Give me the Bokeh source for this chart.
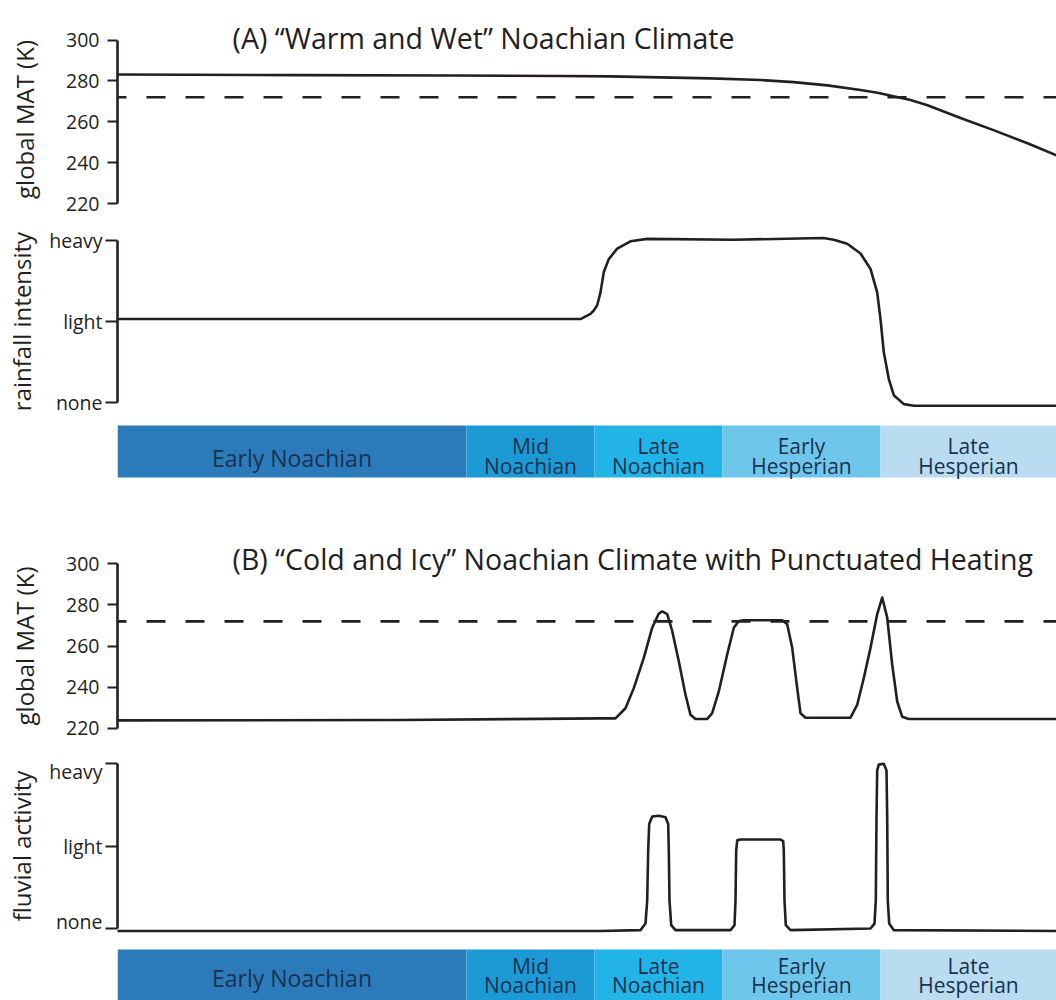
from bokeh.plotting import figure
from bokeh.layouts import column
from bokeh.models import Range1d, FixedTicker, Span, ColumnDataSource
from bokeh.core.properties import value
from bokeh.embed import file_html
from bokeh.resources import INLINE

FONT = "Open Sans"
INK = "#231f20"
BAND_INK = "#18324f"

# ---------------- data ----------------
title_a = "(A) \u201cWarm and Wet\u201d Noachian Climate"
title_b = "(B) \u201cCold and Icy\u201d Noachian Climate with Punctuated Heating"

mat_ticks = [220, 240, 260, 280, 300]
level_ticks = [0, 1, 2]
level_labels = ["none", "light", "heavy"]
freezing_k = 272

periods = ["Early Noachian", "Mid Noachian", "Late Noachian", "Early Hesperian", "Late Hesperian"]
period_two_line = [False, True, True, True, True]
period_start = [0, 349, 477, 605, 763]
period_end = [349, 477, 605, 763, 939]
period_colors = ["#2b7bbb", "#1c9ad6", "#22b4e7", "#6fc6eb", "#badcf1"]

# relative time (0 = start of Early Noachian, 939 = right edge of the figure)
a_mat_t = [0, 183, 333, 443, 493, 543, 593, 643, 676, 710, 743, 760, 776, 793, 810, 843, 876, 910, 939]
a_mat_k = [283.1, 282.8, 282.6, 282.4, 282.2, 281.7, 281.2, 280.4, 279.4, 277.8, 275.5, 274.2,
           272.5, 270.6, 268.1, 261.8, 255.9, 249.5, 243.6]

a_rain_t = [0, 463, 473, 476.3, 479.7, 483, 486.3, 491.3, 499.7, 513, 529.7, 616, 706, 716.3,
            729.7, 743, 753, 759.7, 763, 766.3, 771.3, 776.3, 786.3, 796.3, 939]
a_rain_v = [1.03, 1.03, 1.095, 1.136, 1.2, 1.36, 1.61, 1.77, 1.90, 1.99, 2.02, 2.01, 2.03, 2.01,
            1.96, 1.84, 1.65, 1.36, 1.03, 0.62, 0.29, 0.09, -0.02, -0.04, -0.04]

b_mat_t = [0, 283, 483, 498, 508, 516.3, 526.3, 534.7, 541.3, 544.7, 549.7, 554.7, 561.3, 568,
           573, 578, 589.7, 594.7, 601.3, 609.7, 616.3, 621.3, 626.3, 664.7, 669.7, 674.7, 679.7,
           683, 688, 733, 739.7, 746.3, 753, 759.7, 764.7, 769.7, 774.7, 779.7, 784.7, 791.3, 939]
b_mat_k = [223.8, 224.0, 224.8, 224.8, 229.7, 239.5, 254.2, 268.9, 275.8, 276.8, 275.5, 267.3,
           252.6, 236.3, 226.5, 224.5, 224.5, 227.3, 237.9, 255.9, 268.9, 272.2, 272.5, 272.5,
           270.6, 259.1, 239.5, 227.3, 225.1, 225.1, 231.4, 244.4, 259.1, 275.5, 283.6, 273.8,
           251.0, 233.0, 225.6, 224.5, 224.5]

b_fluv_t = [0, 483, 523, 528, 529.7, 530.7, 531.7, 534.7, 541.3, 548, 550.7, 551.3, 552, 553.7,
            558, 613, 617, 618, 618.7, 619.7, 623, 663, 665.7, 666.3, 667, 668.3, 673, 753, 757,
            758.3, 759, 759.7, 761.3, 766.3, 769, 769.7, 770.3, 771.7, 776.3, 939]
b_fluv_v = [-0.03, -0.03, -0.02, 0.06, 0.34, 0.95, 1.27, 1.36, 1.37, 1.35, 1.27, 0.95, 0.34, 0.04,
            -0.02, -0.02, 0.04, 0.34, 0.95, 1.07, 1.08, 1.08, 1.06, 0.95, 0.34, 0.04, -0.02, 0.0,
            0.06, 0.34, 1.35, 1.92, 1.99, 2.0, 1.92, 1.35, 0.34, 0.06, -0.02, -0.03]

# ---------------- layout helpers ----------------
W = 1056
LEFT = 117
X_END = W - LEFT


def y_range_for(frame_top, frame_bot, v_top, px_top, v_bot, px_bot):
    scale = (px_bot - px_top) / (v_top - v_bot)
    return Range1d(v_bot - (frame_bot - px_bot) / scale, v_top + (px_top - frame_top) / scale)


def base_fig(height, yr, top=0):
    p = figure(width=W, height=height, x_range=Range1d(0, X_END), y_range=yr,
               output_backend="svg", toolbar_location=None, tools="", title=None,
               min_border_left=LEFT, min_border_right=0, min_border_top=top, min_border_bottom=0)
    p.xaxis.visible = False
    p.xgrid.visible = False
    p.ygrid.visible = False
    p.outline_line_color = None
    p.background_fill_color = "white"
    p.border_fill_color = "white"
    return p


def style_yaxis(p, ticks, bounds, label, tick_out, lab_standoff, axlab_standoff, overrides=None):
    ax = p.yaxis[0]
    ax.ticker = FixedTicker(ticks=ticks)
    ax.bounds = bounds
    if overrides:
        ax.major_label_overrides = overrides
    ax.axis_label = label
    ax.axis_line_color = INK
    ax.axis_line_width = 2.6
    ax.major_tick_line_color = INK
    ax.major_tick_line_width = 2.2
    ax.major_tick_out = tick_out
    ax.major_tick_in = 0
    ax.minor_tick_line_color = None
    ax.major_label_standoff = lab_standoff
    ax.major_label_text_font = FONT
    ax.major_label_text_font_size = "19.5px"
    ax.major_label_text_color = INK
    ax.axis_label_text_font = FONT
    ax.axis_label_text_font_size = "24px"
    ax.axis_label_text_font_style = "normal"
    ax.axis_label_text_color = INK
    ax.axis_label_standoff = axlab_standoff


def curve(p, t, v):
    p.line(t, v, line_color=INK, line_width=2.6, line_join="round", line_cap="round")


def freezing(p):
    p.add_layout(Span(location=freezing_k, dimension="width", line_color=INK, line_width=2.6,
                      line_dash="19 20", line_dash_offset=10, level="underlay"))


def band_fig(height, yr, lift=0.0):
    p = base_fig(height, yr)
    p.yaxis.visible = False
    p.quad(left=period_start, right=period_end, bottom=0, top=1,
           fill_color=period_colors, line_color=None)
    cx = [(a + b) / 2 for a, b in zip(period_start, period_end)]
    one = ColumnDataSource(dict(x=[c for c, t in zip(cx, period_two_line) if not t],
                                txt=[n for n, t in zip(periods, period_two_line) if not t]))
    two = ColumnDataSource(dict(x=[c for c, t in zip(cx, period_two_line) if t],
                                l1=[n.split(" ")[0] for n, t in zip(periods, period_two_line) if t],
                                l2=[n.split(" ")[1] for n, t in zip(periods, period_two_line) if t]))
    kw = dict(text_font=value(FONT), text_color=BAND_INK,
              text_align="center", text_baseline="alphabetic")
    p.text(x="x", y=0.371 + lift, text="txt", source=one, text_font_size="23px", **kw)
    p.text(x="x", y=0.60 + lift, text="l1", source=two, text_font_size="21px", **kw)
    p.text(x="x", y=0.228 + lift, text="l2", source=two, text_font_size="21px", **kw)
    return p


title_kw = dict(text_font=value(FONT), text_font_size="28.5px", text_color=INK,
                text_align="left", text_baseline="alphabetic")
level_over = {t: l for t, l in zip(level_ticks, level_labels)}

# ---- panel A: temperature ----
fa1 = base_fig(226, y_range_for(12, 226, 300, 39.5, 220, 203), top=12)
freezing(fa1)
curve(fa1, a_mat_t, a_mat_k)
fa1.text(x=[115], y=[301.2], text=[title_a], **title_kw)
style_yaxis(fa1, mat_ticks, (220, 300), "global MAT (K)", 10, 8, 22)

# ---- panel A: rainfall ----
fa2 = base_fig(190, y_range_for(226, 416, 2, 240, 0, 402))
curve(fa2, a_rain_t, a_rain_v)
style_yaxis(fa2, level_ticks, (0, 2), "rainfall intensity", 12, 3, 8, level_over)

# ---- panel A: periods ----
fa3 = band_fig(118, y_range_for(416, 534, 1, 425, 0, 477))

# ---- panel B: temperature ----
fb1 = base_fig(223, y_range_for(534, 757, 300, 563.3, 220, 727.7))
freezing(fb1)
curve(fb1, b_mat_t, b_mat_k)
fb1.text(x=[115], y=[302.1], text=[title_b], **title_kw)
style_yaxis(fb1, mat_ticks, (220, 300), "global MAT (K)", 10, 8, 22)

# ---- panel B: fluvial activity ----
fb2 = base_fig(177, y_range_for(757, 934, 2, 763.3, 0, 928))
curve(fb2, b_fluv_t, b_fluv_v)
style_yaxis(fb2, level_ticks, (0, 2), "fluvial activity", 12, 3, 8, level_over)

# ---- panel B: periods (text lifted a little so it stays inside the window) ----
fb3 = band_fig(66, y_range_for(934, 1000, 1, 949, 0, 1001), lift=0.08)

layout = column(fa1, fa2, fa3, fb1, fb2, fb3, spacing=0)
open("out.html", "w").write(file_html(layout, INLINE))
